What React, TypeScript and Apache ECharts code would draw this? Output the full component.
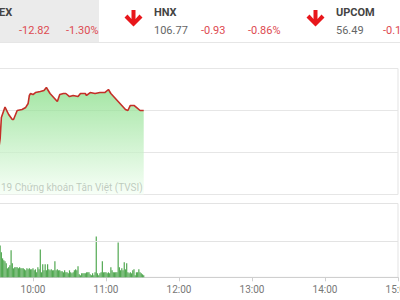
import React, { useEffect, useRef } from "react";
import * as echarts from "echarts";

// Intraday index line (minutes since midnight, index value)
const lineMinutes = [570,573,574,577,580,583,584,587,591,594,596,597,598,600,602,606,609,611,614,617,620,622,625,627,630,633,637,639,643,644,647,651,655,659,662,664,667,670,673,676,678,680,683,685,688,691];
const lineValues = [968.76,971.33,973.33,974.33,973.62,973.14,973.14,974.0,974.1,974.29,974.67,975.43,975.62,975.52,975.71,975.81,975.9,976.19,975.62,975.24,974.86,975.52,975.62,975.62,975.33,975.43,975.33,975.62,975.62,975.43,975.71,975.62,975.71,975.71,976.0,975.62,975.24,974.86,974.48,974.1,974.0,974.48,974.48,974.29,974.0,974.0];

// Per-minute volume bars, first bar at 9:33
const volStartMinute = 573;
const volumes = [
  3200,2500,1900,1700,1600,1400,900,1000,1200,2700,
  1400,900,1000,1000,1000,900,1000,900,900,900,
  800,700,900,800,900,800,800,900,700,800,
  500,1000,800,2800,500,1300,700,1300,700,1300,
  800,700,800,700,700,1600,700,800,700,700,
  600,600,500,700,500,500,400,700,500,400,
  500,700,800,700,1100,300,200,400,400,400,
  400,500,500,500,300,200,400,200,500,4100,
  400,200,400,500,1600,500,500,500,400,500,
  400,1000,700,500,500,500,500,3500,1000,700,
  900,700,1500,800,1400,500,400,500,400,700,
  800,200,500,500,800,500,400,300,200,
];

// Header quotes
const quoteNames = ["EX", "HNX", "UPCOM"];
const quoteValues = ["", "106.77", "56.49"];
const quoteChanges = ["-12.82", "-0.93", "-0.15"];
const quotePercents = ["-1.30%", "-0.86%", "-0.15%"];

const OFF = 40; // container starts 40px left of the page

export default function App() {
  const ref = useRef<HTMLDivElement>(null);
  useEffect(() => {
    if (!ref.current) return;
    const chart = echarts.init(ref.current, undefined, { renderer: "svg" });
    const font = "Roboto, 'Noto Sans', sans-serif";
    const red = "#dd4a50";
    const blockX = [-28, 154, 336];
    const graphics: any[] = [
      { type: "rect", z: 0, shape: { x: 0, y: 0, width: OFF + 99, height: 42 }, style: { fill: "#ebebeb" } },
      { type: "line", shape: { x1: 0, y1: 42.5, x2: 440, y2: 42.5 }, style: { stroke: "#e6e6e6", lineWidth: 1 } },
    ];
    quoteNames.forEach((n, i) => {
      const bx = blockX[i] + OFF;
      graphics.push({
        type: "text", x: i === 0 ? OFF - 1 : bx, y: 12.5,
        style: { text: n, fontFamily: font, fontSize: 11, fontWeight: "bold", fill: "#444", textVerticalAlign: "middle" },
      });
      if (quoteValues[i]) {
        graphics.push({
          type: "text", x: bx, y: 30.5,
          style: { text: quoteValues[i], fontFamily: font, fontSize: 11, fill: "#666", textVerticalAlign: "middle" },
        });
      }
      graphics.push({
        type: "text", x: bx + 47, y: 30.5,
        style: { text: quoteChanges[i], fontFamily: font, fontSize: 11, fill: red, textVerticalAlign: "middle" },
      });
      graphics.push({
        type: "text", x: bx + 94, y: 30.5,
        style: { text: quotePercents[i], fontFamily: font, fontSize: 11, fill: red, textVerticalAlign: "middle" },
      });
      if (i > 0) {
        const cx = bx - 20.5;
        graphics.push({
          type: "polygon",
          shape: {
            points: [
              [cx - 2, 10], [cx + 2, 10], [cx + 2, 19], [cx + 6, 14.5], [cx + 9, 17.5],
              [cx, 26.5], [cx - 9, 17.5], [cx - 6, 14.5], [cx - 2, 19],
            ],
          },
          style: { fill: "#e8161b" },
        });
      }
    });
    graphics.push({
      type: "text", x: OFF + 1, y: 187,
      style: { text: "19 Chứng khoán Tân Việt (TVSI)", fontFamily: font, fontSize: 10, fill: "#555", textVerticalAlign: "middle" },
    });

    const pad = (v: number) => {
      const h = Math.floor(v / 60);
      const m = v % 60;
      return `${h}:${m < 10 ? "0" + m : m}`;
    };

    chart.setOption({
      animation: false,
      backgroundColor: "#fff",
      textStyle: { fontFamily: font },
      grid: [
        { left: 0, right: 2, top: 68.5, height: 126, show: true, borderColor: "#e3e3e3", borderWidth: 1, containLabel: false, outerBoundsMode: "none" },
        { left: 0, right: 2, top: 203.5, height: 73.8, show: true, borderColor: "#e3e3e3", borderWidth: 1, containLabel: false, outerBoundsMode: "none" },
      ],
      xAxis: [
        { type: "value", gridIndex: 0, min: 540, max: 900, interval: 60, show: false, splitLine: { show: false } },
        {
          type: "value", gridIndex: 1, min: 540, max: 900, interval: 60,
          axisLine: { lineStyle: { color: "#cfcfcf" } },
          axisTick: { show: true, length: 4, lineStyle: { color: "#cfcfcf" } },
          axisLabel: { color: "#777", fontSize: 10, margin: 7, showMinLabel: false, formatter: (v: number) => pad(v) },
          splitLine: { show: false },
        },
      ],
      yAxis: [
        {
          type: "value", gridIndex: 0, min: 966, max: 978, interval: 4,
          axisLabel: { show: false }, axisLine: { show: false }, axisTick: { show: false },
          splitLine: { lineStyle: { color: "#e6e6e6" } },
        },
        {
          type: "value", gridIndex: 1, min: 0, max: 7400, interval: 3600,
          axisLabel: { show: false }, axisLine: { show: false }, axisTick: { show: false },
          splitLine: { show: false },
        },
      ],
      series: [
        {
          type: "line", xAxisIndex: 0, yAxisIndex: 0,
          data: lineMinutes.map((m, i) => [m, lineValues[i]]),
          symbol: "none",
          lineStyle: { color: "#c42f28", width: 1.6 },
          areaStyle: {
            origin: "start",
            color: new echarts.graphic.LinearGradient(0, 0, 0, 1, [
              { offset: 0, color: "#7edb7e" },
              { offset: 1, color: "#f4fff4" },
            ]),
          },
        },
        {
          type: "bar", xAxisIndex: 1, yAxisIndex: 1,
          data: volumes.map((v, i) => [volStartMinute + i, v]),
          barWidth: 1.2,
          itemStyle: { color: "#52a852" },
          markLine: {
            silent: true, symbol: "none", label: { show: false },
            lineStyle: { color: "#e3e3e3", type: "solid", width: 1 },
            data: [{ yAxis: 3600 }],
          },
        },
      ],
      graphic: graphics,
    });
    return () => chart.dispose();
  }, []);
  return (
    <div
      ref={ref}
      style={{ position: "absolute", left: -OFF, top: 0, width: 440, height: 300 }}
    />
  );
}
